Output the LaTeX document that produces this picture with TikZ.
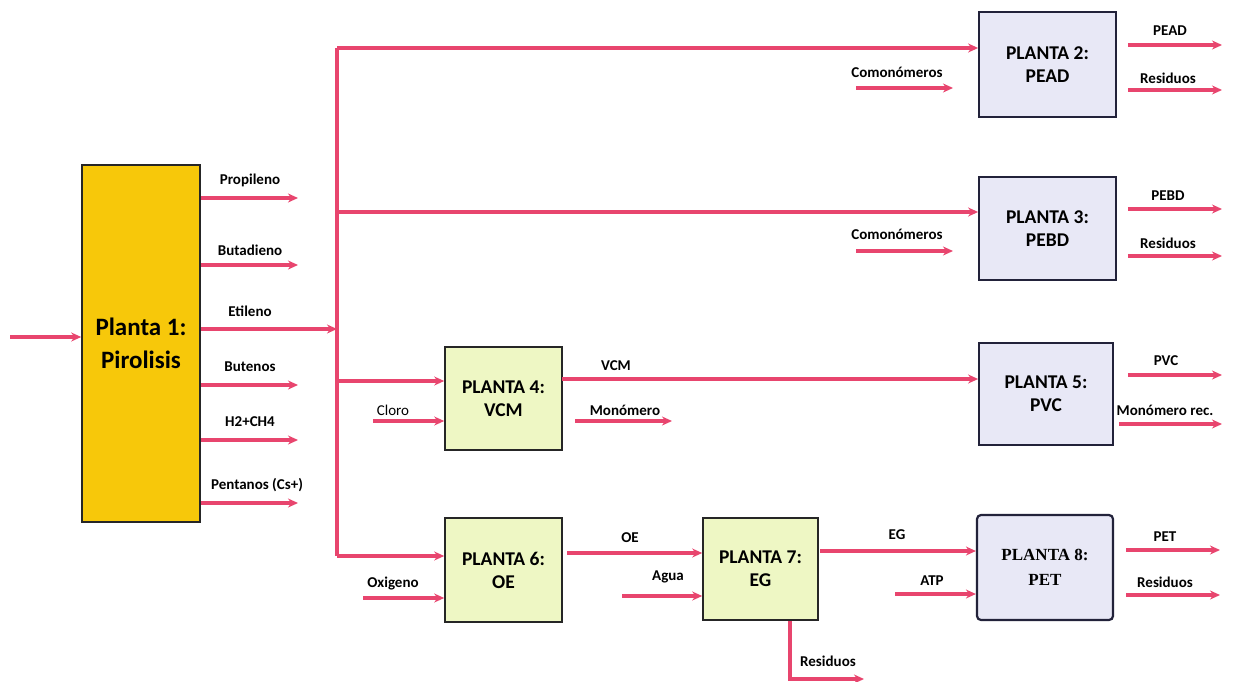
\documentclass[tikz,border=0pt]{standalone}
\usepackage{fontspec}
\setmainfont{Carlito}
\newfontfamily\serifplant{Liberation Serif}
\usetikzlibrary{arrows.meta,calc}
\definecolor{flow}{HTML}{E8456E}
\definecolor{gold}{HTML}{F7C80A}
\definecolor{lgreen}{HTML}{EEF7C4}
\definecolor{lav}{HTML}{E8E8F6}
\definecolor{navy}{HTML}{22223A}
\begin{document}
\begin{tikzpicture}[x=1pt,y=-1pt,
 flowline/.style={draw=flow,line width=3.2pt,-{Stealth[length=10pt,width=9pt]}},
 busline/.style={draw=flow,line width=3.2pt},
 lbl/.style={font=\fontsize{15}{17}\selectfont\bfseries,inner sep=1pt},
 plantbox/.style={draw=black!85,line width=1.6pt,align=center,font=\fontsize{19.5}{23}\selectfont\bfseries,inner sep=0pt},
 greenbox/.style={plantbox,fill=lgreen},
 lavbox/.style={plantbox,fill=lav,draw=navy,line width=1.8pt},
]
\useasboundingbox (0,0) rectangle (1233,682);

% plants
\node[plantbox,fill=gold,minimum width=118pt,minimum height=357pt,font=\fontsize{25}{33}\selectfont\bfseries] (p1) at (141,343.5) {Planta 1:\\Pirolisis};
\node[lavbox,minimum width=137pt,minimum height=105pt] (p2) at (1047.5,64.5) {PLANTA 2:\\PEAD};
\node[lavbox,minimum width=137pt,minimum height=103pt] (p3) at (1047.5,228.5) {PLANTA 3:\\PEBD};
\node[greenbox,minimum width=117pt,minimum height=103pt] (p4) at (503.5,398.5) {PLANTA 4:\\VCM};
\node[lavbox,minimum width=134pt,minimum height=102pt] (p5) at (1046,394) {PLANTA 5:\\PVC};
\node[greenbox,minimum width=117pt,minimum height=104pt] (p6) at (503.5,570) {PLANTA 6:\\OE};
\node[greenbox,minimum width=115pt,minimum height=102pt] (p7) at (760.5,569) {PLANTA 7:\\EG};
\node[lavbox,rounded corners=4pt,line width=2.2pt,minimum width=136pt,minimum height=105pt,font=\serifplant\bfseries\fontsize{17}{25}\selectfont] (p8) at (1045,567.5) {PLANTA 8:\\PET};

% feed to plant 1
\coordinate (feed) at (10,337);
\draw[flowline] (feed) -- (feed -| p1.west);

% outputs of plant 1
\foreach \yy/\name/\lx/\ly/\txt in {198/pro/250/180/Propileno, 265/but/250/250/Butadieno, 385/bute/250/367/Butenos, 440/hc/250/422/H2+CH4, 503/pen/257/485/Pentanos (Cs+)}{
  \coordinate (\name) at (298,\yy);
  \draw[flowline] (\name -| p1.east) -- (\name);
  \node[lbl] at (\lx,\ly) {\txt};
}
\coordinate (eti) at (337,329);
\draw[flowline] (eti -| p1.east) -- (eti);
\node[lbl] at (250,311) {Etileno};

% ethylene bus
\coordinate (bt) at (337,48);
\coordinate (b3) at (337,212);
\coordinate (b4) at (337,381);
\coordinate (bb) at (337,556);
\draw[busline] (bt) -- (bb);
\draw[flowline] (bt) -- (bt -| p2.west);
\draw[flowline] (b3) -- (b3 -| p3.west);
\draw[flowline] (b4) -- (b4 -| p4.west);
\draw[flowline] (bb) -- (bb -| p6.west);

% plant 2
\coordinate (c2) at (856,88);
\draw[flowline] (c2) -- ++(97,0);
\node[lbl] at (897,72) {Comonómeros};
\coordinate (o2a) at (1222,45);
\coordinate (o2b) at (1222,90);
\draw[flowline] (o2a -| p2.east) ++(11,0) -- (o2a);
\draw[flowline] (o2b -| p2.east) ++(11,0) -- (o2b);
\node[lbl] at (1170,31) {PEAD};
\node[lbl] at (1168,78) {Residuos};

% plant 3
\coordinate (c3) at (856,251);
\draw[flowline] (c3) -- ++(97,0);
\node[lbl] at (897,234) {Comonómeros};
\coordinate (o3a) at (1222,209);
\coordinate (o3b) at (1222,256);
\draw[flowline] (o3a -| p3.east) ++(11,0) -- (o3a);
\draw[flowline] (o3b -| p3.east) ++(11,0) -- (o3b);
\node[lbl] at (1168,196) {PEBD};
\node[lbl] at (1168,243) {Residuos};

% plant 4
\coordinate (cl) at (373,421);
\draw[flowline] (cl) -- (cl -| p4.west);
\node[lbl,font=\fontsize{15}{17}\selectfont] at (393,410) {Cloro};
\coordinate (vcm) at (562,379);
\draw[flowline] (vcm) -- (vcm -| p5.west);
\node[lbl] at (616,366) {VCM};
\coordinate (mo) at (575,421);
\draw[flowline] (mo) -- ++(97,0);
\node[lbl] at (625,410) {Monómero};

% plant 5
\coordinate (o5a) at (1222,375);
\coordinate (o5b) at (1222,424);
\draw[flowline] (o5a -| p5.east) ++(14,0) -- (o5a);
\draw[flowline] (o5b -| p5.east) ++(5,0) -- (o5b);
\node[lbl] at (1166,361) {PVC};
\node[lbl] at (1165,410) {Monómero rec.};

% plant 6
\coordinate (ox) at (363,598);
\draw[flowline] (ox) -- (ox -| p6.west);
\node[lbl] at (393,584) {Oxigeno};
\coordinate (oe) at (567,553);
\draw[flowline] (oe) -- (oe -| p7.west);
\node[lbl] at (630,538) {OE};
\coordinate (ag) at (622,596);
\draw[flowline] (ag) -- (ag -| p7.west);
\node[lbl] at (668,577) {Agua};

% plant 7
\coordinate (eg) at (820,551);
\draw[flowline] (eg) -- (eg -| p8.west);
\node[lbl] at (897,535) {EG};
\coordinate (r7) at (790,679);
\coordinate (r7e) at (864,679);
\draw[flowline] (r7 |- p7.south) -- (r7) -- (r7e);
\node[lbl] at (828,661) {Residuos};

% plant 8
\coordinate (atp) at (895,594);
\draw[flowline] (atp) -- (atp -| p8.west);
\node[lbl] at (932,581) {ATP};
\coordinate (o8a) at (1220,550);
\coordinate (o8b) at (1220,595);
\draw[flowline] (o8a -| p8.east) ++(12,0) -- (o8a);
\draw[flowline] (o8b -| p8.east) ++(12,0) -- (o8b);
\node[lbl] at (1165,537) {PET};
\node[lbl] at (1165,582) {Residuos};
\end{tikzpicture}
\end{document}
